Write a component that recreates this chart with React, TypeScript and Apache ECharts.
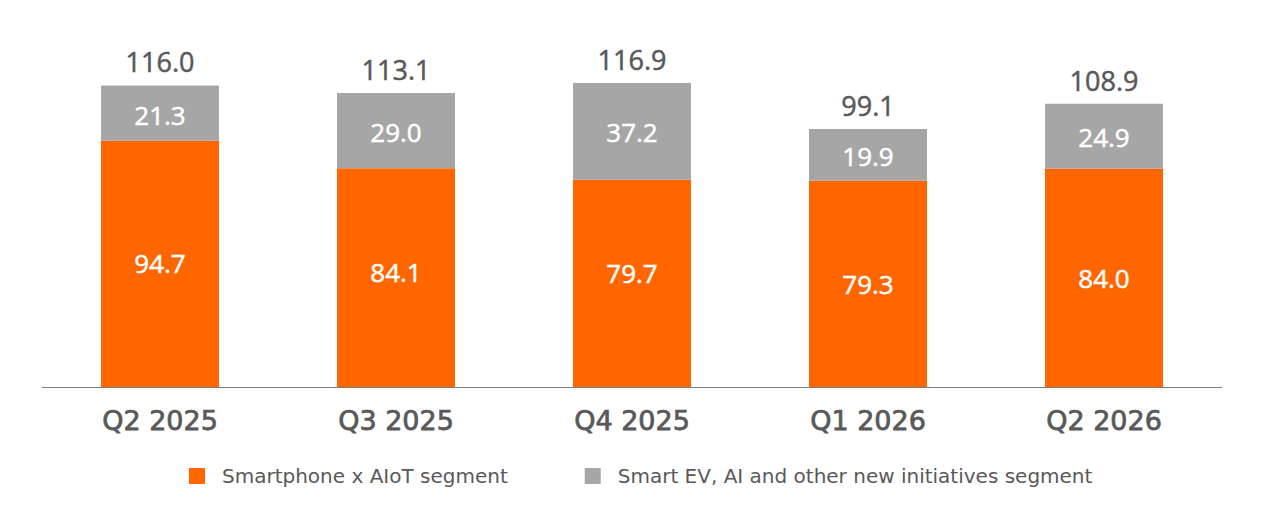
import React, { useEffect, useRef } from "react";
import * as echarts from "echarts";

const categories = ["Q2 2025", "Q3 2025", "Q4 2025", "Q1 2026", "Q2 2026"];
const smartphoneAIoT = [94.7, 84.1, 79.7, 79.3, 84.0];
const smartEV = [21.3, 29.0, 37.2, 19.9, 24.9];
const totals = [116.0, 113.1, 116.9, 99.1, 108.9];
const seriesNames = ["Smartphone x AIoT segment", "Smart EV, AI and other new initiatives segment"];

const NUM_FONT = "'Open Sans'";
const TXT_FONT = "'DejaVu Sans'";
const TEXT = "#595959";
// vertical nudges of the in-bar labels, as placed in the original slide
const orangeLabelShift = [-1, -6, -10, 0, 0];
const greyLabelShift = [2, 1, 1, 1, 1];

export default function App() {
  const ref = useRef<HTMLDivElement>(null);
  useEffect(() => {
    if (!ref.current) return;
    const chart = echarts.init(ref.current, null, { renderer: "svg" });
    const numLabel = (color: string, size: number) => ({
      show: true,
      color,
      fontSize: size,
      fontFamily: NUM_FONT,
      fontWeight: 500,
      textBorderColor: color,
      textBorderWidth: 0.5,
    });
    const withShift = (vals: number[], shifts: number[]) =>
      vals.map((v, i) => ({ value: v, label: { offset: [0, shifts[i]] } }));
    chart.setOption({
      animation: false,
      backgroundColor: "#ffffff",
      textStyle: { fontFamily: NUM_FONT },
      grid: { left: 42, right: 40, top: 23, bottom: 131 },
      legend: {
        data: seriesNames,
        top: 461,
        left: 184,
        itemWidth: 16,
        itemHeight: 16,
        itemGap: 77,
        icon: "rect",
        textStyle: { fontFamily: TXT_FONT, fontSize: 20, color: TEXT, padding: [0, 0, 0, 12] },
      },
      xAxis: {
        type: "category",
        data: categories,
        axisLine: { show: true, lineStyle: { color: "#808080", width: 1.2 } },
        axisTick: { show: false },
        axisLabel: {
          fontFamily: TXT_FONT,
          fontSize: 27,
          color: TEXT,
          margin: 20,
          textBorderColor: TEXT,
          textBorderWidth: 0.75,
        },
      },
      yAxis: { type: "value", min: 0, max: 140, show: false, splitLine: { show: false } },
      series: [
        {
          name: seriesNames[0],
          type: "bar",
          stack: "rev",
          data: withShift(smartphoneAIoT, orangeLabelShift),
          barWidth: "50%",
          itemStyle: { color: "#ff6600" },
          label: { ...numLabel("#ffffff", 26), position: "inside", formatter: (p: any) => Number(p.value).toFixed(1) },
        },
        {
          name: seriesNames[1],
          type: "bar",
          stack: "rev",
          data: withShift(smartEV, greyLabelShift),
          barWidth: "50%",
          itemStyle: { color: "#a6a6a6" },
          label: { ...numLabel("#ffffff", 26), position: "inside", formatter: (p: any) => Number(p.value).toFixed(1) },
        },
        {
          name: "Total",
          type: "bar",
          stack: "rev",
          data: totals.map(() => 0),
          barWidth: "50%",
          itemStyle: { color: "transparent" },
          label: {
            ...numLabel(TEXT, 27),
            position: "top",
            distance: 10,
            formatter: (p: any) => totals[p.dataIndex].toFixed(1),
          },
        },
      ],
    });
    return () => chart.dispose();
  }, []);
  return <div ref={ref} style={{ position: "fixed", left: 0, top: 0, width: 1262, height: 518 }} />;
}
